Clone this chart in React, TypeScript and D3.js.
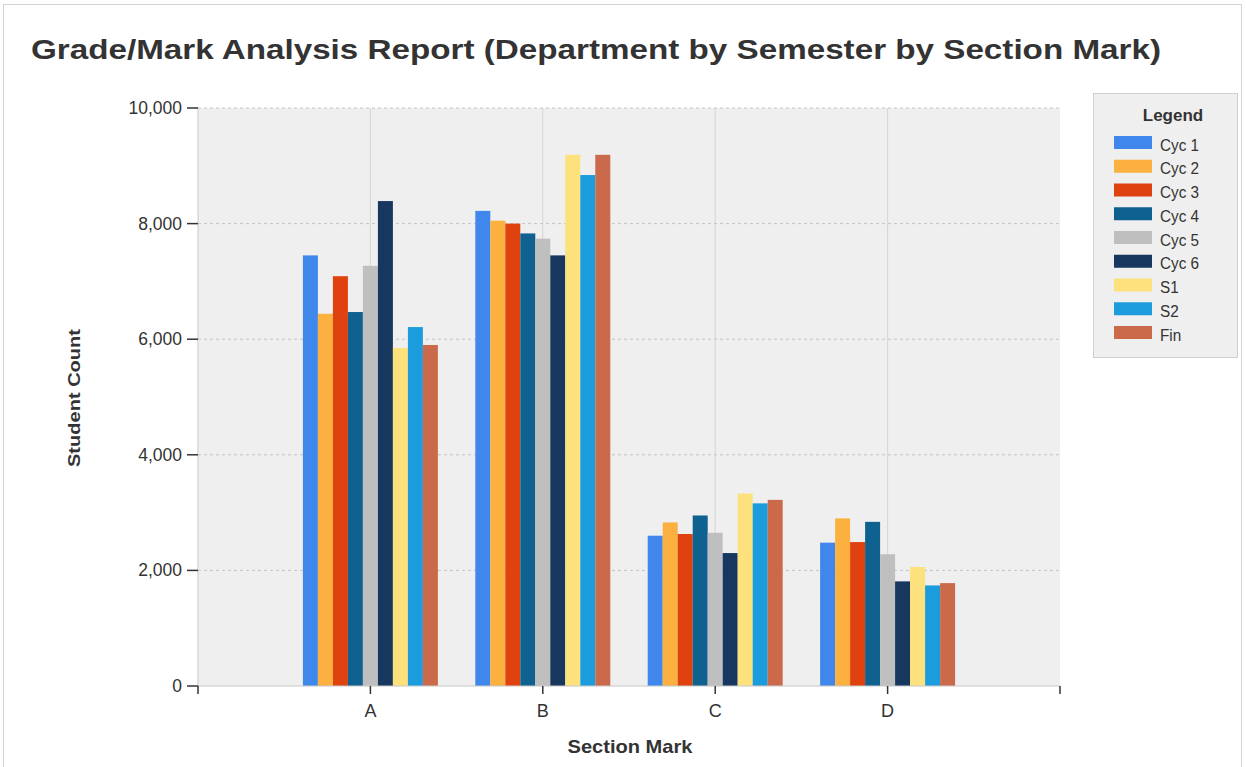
import React from "react";
import * as d3 from "d3";

const categories = ["A", "B", "C", "D"];
const seriesNames = ["Cyc 1", "Cyc 2", "Cyc 3", "Cyc 4", "Cyc 5", "Cyc 6", "S1", "S2", "Fin"];
const seriesColors = ["#3f87ea", "#fbb03f", "#e0420f", "#0f6290", "#bfbfbf", "#18375f", "#fde17c", "#1c9cdc", "#cb6a4b"];
const cyc1 = [7450, 8220, 2600, 2480];
const cyc2 = [6440, 8050, 2830, 2900];
const cyc3 = [7090, 8000, 2630, 2490];
const cyc4 = [6470, 7830, 2950, 2840];
const cyc5 = [7270, 7740, 2650, 2280];
const cyc6 = [8390, 7450, 2300, 1810];
const s1 = [5850, 9190, 3330, 2060];
const s2 = [6210, 8840, 3160, 1740];
const fin = [5900, 9190, 3220, 1780];
const seriesValues = [cyc1, cyc2, cyc3, cyc4, cyc5, cyc6, s1, s2, fin];
const yTicks = [0, 2000, 4000, 6000, 8000, 10000];

const FONT = "'Liberation Sans', Arial, sans-serif";

export default function App() {
  const left = 198, right = 1060, top = 108, bottom = 686;
  const x = d3.scaleLinear().domain([0, 5]).range([left, right]);
  const y = d3.scaleLinear().domain([0, 10000]).range([bottom, top]);
  const barW = x(0.087) - x(0);
  const fmt = d3.format(",");
  const nS = seriesNames.length;

  return (
    <svg width={1246} height={767} style={{ position: "absolute", left: 0, top: 0, background: "#fff" }}>
      <rect x={3.5} y={4.5} width={1238} height={800} fill="#fff" stroke="#d4d4d4" />
      <text x={31} y={59} fontFamily={FONT} fontWeight="bold" fontSize={28} fill="#333" textLength={1130} lengthAdjust="spacingAndGlyphs">
        Grade/Mark Analysis Report (Department by Semester by Section Mark)
      </text>
      {/* plot background */}
      <rect x={left} y={top} width={x(5) - left} height={bottom - top} fill="#efefef" />
      {/* vertical grid */}
      {categories.map((c, i) => (
        <line key={c} x1={x(i + 1)} x2={x(i + 1)} y1={top} y2={bottom} stroke="#d6d6d6" strokeWidth={1} />
      ))}
      {/* horizontal grid */}
      {yTicks.filter(t => t > 0).map(t => (
        <line key={t} x1={left} x2={x(5)} y1={y(t)} y2={y(t)} stroke="#c4c4c4" strokeDasharray="3,3" />
      ))}
      {/* bars */}
      {seriesValues.map((vals, si) =>
        vals.map((v, ci) => {
          const cx = x(ci + 1) + (si - (nS - 1) / 2) * barW;
          return (
            <rect key={si + "-" + ci} x={cx - barW / 2} y={y(v)} width={barW} height={bottom - y(v)} fill={seriesColors[si]} />
          );
        })
      )}
      {/* axes */}
      <line x1={left} x2={left} y1={top} y2={bottom} stroke="#c8c8c8" />
      <line x1={left} x2={x(5)} y1={bottom} y2={bottom} stroke="#c8c8c8" />
      {yTicks.map(t => (
        <g key={t}>
          <line x1={left - 11} x2={left} y1={y(t)} y2={y(t)} stroke="#333" strokeWidth={1.5} />
          <text x={left - 16} y={y(t) + 6} textAnchor="end" fontFamily={FONT} fontSize={17.5} fill="#333">{fmt(t)}</text>
        </g>
      ))}
      {[0, 1, 2, 3, 4, 5].map(p => (
        <line key={p} x1={x(p)} x2={x(p)} y1={bottom} y2={bottom + 8} stroke="#333" strokeWidth={1.5} />
      ))}
      {categories.map((c, i) => (
        <text key={c} x={x(i + 1)} y={bottom + 31} textAnchor="middle" fontFamily={FONT} fontSize={18} fill="#333">{c}</text>
      ))}
      <text x={630} y={753} textAnchor="middle" fontFamily={FONT} fontWeight="bold" fontSize={19} fill="#333" textLength={125} lengthAdjust="spacingAndGlyphs">Section Mark</text>
      <text transform={`translate(80,398) rotate(-90)`} textAnchor="middle" fontFamily={FONT} fontWeight="bold" fontSize={16} fill="#333" textLength={138} lengthAdjust="spacingAndGlyphs">Student Count</text>
      {/* legend */}
      <rect x={1093.5} y={93.5} width={144} height={264} fill="#efefef" stroke="#cfcfcf" />
      <text x={1173} y={121} textAnchor="middle" fontFamily={FONT} fontWeight="bold" fontSize={17} fill="#333">Legend</text>
      {seriesNames.map((n, i) => (
        <g key={n}>
          <rect x={1114} y={136 + i * 23.75} width={38} height={13} fill={seriesColors[i]} />
          <text transform={`translate(1160,${150.5 + i * 23.75}) scale(0.9,1)`} fontFamily={FONT} fontSize={17} fill="#333">{n}</text>
        </g>
      ))}
    </svg>
  );
}
